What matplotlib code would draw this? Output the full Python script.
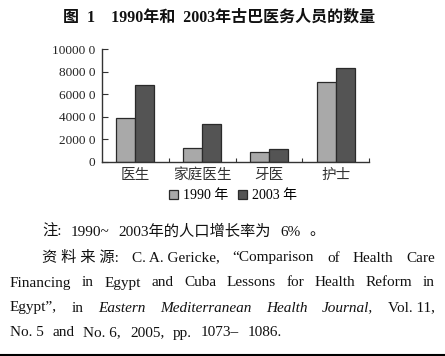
import matplotlib
matplotlib.use("Agg")
import matplotlib.pyplot as plt
from matplotlib.patches import Rectangle

plt.rcParams['font.family'] = ['Liberation Serif', 'Noto Sans CJK SC']

# data
categories = ["医生", "家庭医生", "牙医", "护士"]
y1990 = [3900, 1270, 860, 7080]
y2003 = [6800, 3360, 1120, 8290]
ytick_vals = [0, 2000, 4000, 6000, 8000, 10000]
ytick_labels = ["0", "2000 0", "4000 0", "6000 0", "8000 0", "10000 0"]
series_labels = ["1990 年", "2003 年"]

title = "图  1    1990年和  2003年古巴医务人员的数量"
note_tokens = [("注:", False), ("1990~", False), ("2003年的人口增长率为", False), ("6%", False), ("。", False)]
source_lines = [
    [("资 料 来 源:", False), ("C. A. Gericke,", False), ("“Comparison", False), ("of", False),
     ("Health", False), ("Care", False)],
    [("Financing", False), ("in", False), ("Egypt", False), ("and", False), ("Cuba", False),
     ("Lessons", False), ("for", False), ("Health", False), ("Reform", False), ("in", False)],
    [("Egypt”,", False), ("in", False), ("Eastern", True), ("Mediterranean", True),
     ("Health", True), ("Journal,", True), ("Vol. 11,", False)],
    [("No. 5", False), ("and", False), ("No. 6,", False), ("2005,", False), ("pp.", False),
     ("1073–", False), ("1086.", False)],
]

c1990 = "#a9a9a9"
c2003 = "#545454"
edge = "#2a2a2a"

fig = plt.figure(figsize=(4.45, 3.56), dpi=100)
W, H = 445, 356

ax = fig.add_axes([102 / W, 1 - 162 / H, (369 - 102) / W, (162 - 49) / H])
x = range(len(categories))
bw = 0.285
ax.bar([i - bw / 2 for i in x], y1990, bw, color=c1990, edgecolor=edge, linewidth=0.9)
ax.bar([i + bw / 2 for i in x], y2003, bw, color=c2003, edgecolor=edge, linewidth=0.9)
ax.set_xlim(-0.5, len(categories) - 0.5)
ax.set_ylim(0, 10000)
for s in ["top", "right"]:
    ax.spines[s].set_visible(False)
for s in ["left", "bottom"]:
    ax.spines[s].set_color("#333333")
    ax.spines[s].set_linewidth(1.0)
ax.set_yticks(ytick_vals)
ax.set_yticklabels(ytick_labels, fontsize=9.5, color="#222222")
ax.tick_params(axis="y", direction="in", length=4, pad=5, color="#333333")
ax.set_xticks([i + 0.5 for i in x])
ax.set_xticklabels([])
ax.tick_params(axis="x", direction="in", length=3, color="#333333")
for i, c in enumerate(categories):
    ax.text(i, -0.06, c, transform=ax.get_xaxis_transform(), ha="center", va="top",
            fontsize=10.5, color="#333333")

# legend
handles = [Rectangle((0, 0), 1, 1, facecolor=c1990, edgecolor=edge, linewidth=0.9),
           Rectangle((0, 0), 1, 1, facecolor=c2003, edgecolor=edge, linewidth=0.9)]
fig.legend(handles, series_labels, loc="center", bbox_to_anchor=(233 / W, 1 - 196 / H),
           ncol=2, frameon=False, fontsize=10, handlelength=0.65, handleheight=0.65,
           handletextpad=0.35, columnspacing=0.7, borderpad=0)

fig.text(219 / W, 1 - 18 / H, title, ha="center", va="center", fontsize=11.5,
         fontweight="bold", color="#111111")

renderer = fig.canvas.get_renderer()


def justify(y, tokens, x0, x1):
    items = []
    for t, it in tokens:
        txt = fig.text(0, 1 - y / H, t, ha="left", va="center", fontsize=11,
                       style="italic" if it else "normal", color="#111111")
        items.append(txt)
    widths = [tt.get_window_extent(renderer).width for tt in items]
    gap = (x1 - x0 - sum(widths)) / (len(items) - 1)
    cur = x0
    for tt, w in zip(items, widths):
        tt.set_x(cur / W)
        cur += w + gap


justify(232, note_tokens, 42, 325)
justify(258, source_lines[0], 42, 435)
justify(283, source_lines[1], 10, 435)
justify(308, source_lines[2], 10, 435)
justify(333, source_lines[3], 10, 282)

fig.add_artist(plt.Line2D([0, 1], [1 - 355 / H, 1 - 355 / H], color="black", linewidth=1.5))

fig.savefig("out.png", dpi=100)
